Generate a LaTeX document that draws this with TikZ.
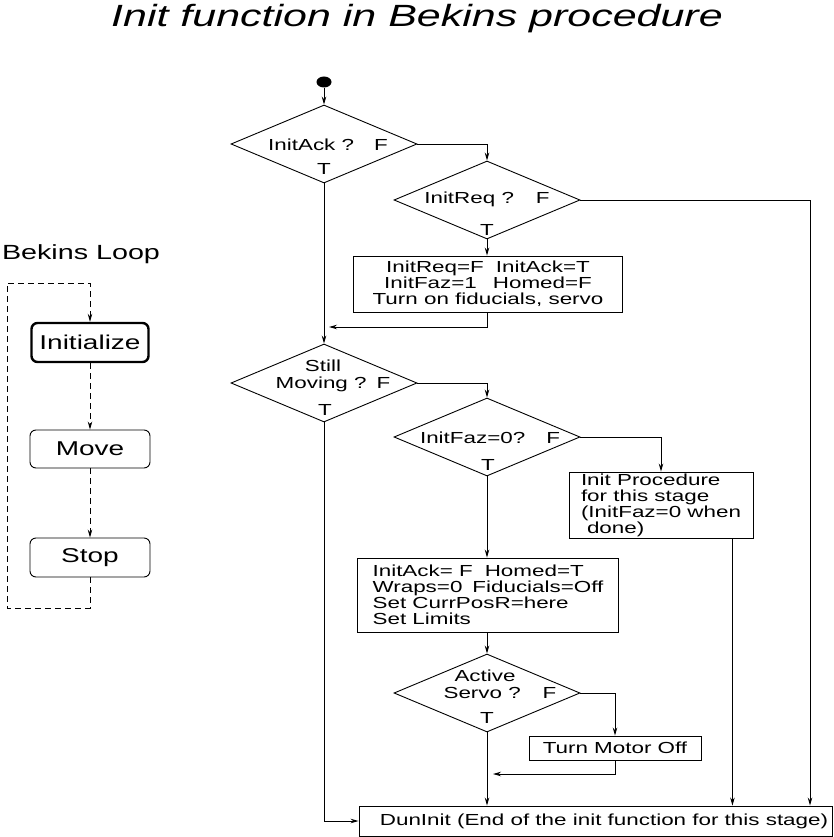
\documentclass[tikz,border=0pt]{standalone}
\usepackage{fontspec}
\setmainfont{Liberation Sans}[FakeStretch=1.4]
\newfontfamily\titlefont{Liberation Sans}[FakeStretch=1.4]
\usetikzlibrary{shapes, arrows.meta, positioning, calc}

\begin{document}
\begin{tikzpicture}[
		x=1pt, y=-1pt,
		>={Stealth[length=8pt,width=4.5pt]},
		% Estilos de los bloques
		box/.style={draw, rectangle, line width=0.9pt, inner sep=0pt, align=left, font=\fontsize{16}{16}\selectfont},
		decision/.style={draw, diamond, line width=0.9pt, inner sep=0pt, minimum width=186pt, minimum height=78pt},
		qtext/.style={inner sep=0pt, font=\fontsize{16}{16}\selectfont},
		stagebox/.style={draw, rectangle, rounded corners=6pt, line width=0.9pt, minimum width=120pt, minimum height=38pt, font=\fontsize{20}{20}\selectfont},
		line/.style={draw, line width=0.9pt, ->},
		dashloop/.style={draw, line width=0.9pt, dash pattern=on 6pt off 4pt}
		]
		\useasboundingbox (0,0) rectangle (834,837);
		
		% --- TITULO ---
		\node [anchor=base, font=\titlefont\itshape\fontsize{30.7}{32}\selectfont] (title) at (417,27) {Init function in Bekins procedure};
		
		% --- BEKINS LOOP ---
		\node [font=\fontsize{20.5}{22}\selectfont] (looptitle) at (81,254) {Bekins Loop};
		\node [stagebox, line width=2.4pt, minimum width=117pt, minimum height=39pt] (init) at (90,342.5) {Initialize};
		\node [stagebox] (move) at (90,449) {Move};
		\node [stagebox, minimum height=39pt] (stop) at (90,557.5) {Stop};
		\coordinate (lbot) at (7,608);
		\coordinate (ltop) at (7,283);
		\draw [dashloop, ->] (init) -- (move);
		\draw [dashloop, ->] (move) -- (stop);
		\draw [dashloop, ->] (stop.south) |- (lbot) -- (ltop) -| (init.north);
		
		% --- NODOS (DIAGRAMA) ---
		\node [fill, ellipse, minimum width=15pt, minimum height=11pt, inner sep=0pt] (start) at (324,82) {};
		
		\node [decision] (d1) at (324,144) {};
		\node [qtext] (d1q) at ($(d1)+(4,1)$) {InitAck ?\hspace{20pt}F};
		\node [qtext] (d1t) at ($(d1)+(0,25)$) {T};
		
		\node [decision] (d2) at (487,200) {};
		\node [qtext] (d2q) at ($(d2)+(0,-1)$) {InitReq ?\hspace{22pt}F};
		\node [qtext] (d2t) at ($(d2)+(0,30)$) {T};
		
		\node [box, align=center, minimum width=269pt, minimum height=56pt] (b1) at (488,284)
			{InitReq=F\hspace{12pt}InitAck=T\\InitFaz=1\hspace{16pt}Homed=F\\Turn on fiducials, servo};
		
		\node [decision] (d3) at (324,383) {};
		\node [qtext] (d3s) at ($(d3)+(-1,-17)$) {Still};
		\node [qtext] (d3q) at ($(d3)+(9,1)$) {Moving ?\hspace{10pt}F};
		\node [qtext] (d3t) at ($(d3)+(1,27)$) {T};
		
		\node [decision] (d4) at (487,437) {};
		\node [qtext] (d4q) at ($(d4)+(3,1)$) {InitFaz=0?\hspace{21pt}F};
		\node [qtext] (d4t) at ($(d4)+(1,28)$) {T};
		
		\node [box, minimum width=184pt, minimum height=66pt] (b2) at (661,505)
			{Init Procedure\\for this stage\\(InitFaz=0 when\\\hspace*{6pt}done)};
		
		\node [box, minimum width=261pt, minimum height=74pt] (b3) at (488,595)
			{InitAck= F\hspace{12pt}Homed=T\\Wraps=0\hspace{10pt}Fiducials=Off\\Set CurrPosR=here\\Set Limits};
		
		\node [decision] (d5) at (487,693) {};
		\node [qtext] (d5s) at ($(d5)+(-2,-17)$) {Active};
		\node [qtext] (d5q) at ($(d5)+(13,0)$) {Servo ?\hspace{22pt}F};
		\node [qtext] (d5t) at ($(d5)+(0,25)$) {T};
		
		\node [box, minimum width=172pt, minimum height=24pt] (b4) at (615,748) {Turn Motor Off};
		
		\node [box, minimum width=473pt, minimum height=30pt] (dun) at (595.5,821)
			{\hspace{17pt}DunInit (End of the init function for this stage)};
		
		% --- LINEAS ---
		\draw [line] (start) -- (d1);
		\draw [line] (d1.south) -- (d3.north);
		\draw [line] (d1.east) -| (d2.north);
		\draw [line] (d2.south) -- (d2.south |- b1.north);
		\coordinate (j1) at (329,327);
		\draw [line] (d2.south |- b1.south) |- (j1);
		
		\draw [line] (d3.east) -| (d4.north);
		\draw [line] (d4.east) -| (b2.north);
		\draw [line] (d4.south) -- (d4.south |- b3.north);
		\draw [line] (d5.north |- b3.south) -- (d5.north);
		\draw [line] (d5.east) -| (b4.north);
		\coordinate (j2) at (493,774);
		\draw [line] (b4.south) |- (j2);
		\draw [line] (d5.south) -- (d5.south |- dun.north);
		
		% Salidas hacia DunInit
		\draw [line] (d3.south) |- (dun.west);
		\coordinate (rcol) at (810,200);
		\draw [line] (d2.east) -| (rcol |- dun.north);
		\coordinate (b2out) at ($(b2.south east)+(-21,0)$);
		\draw [line] (b2out) -- (b2out |- dun.north);
		
	\end{tikzpicture}
\end{document}
